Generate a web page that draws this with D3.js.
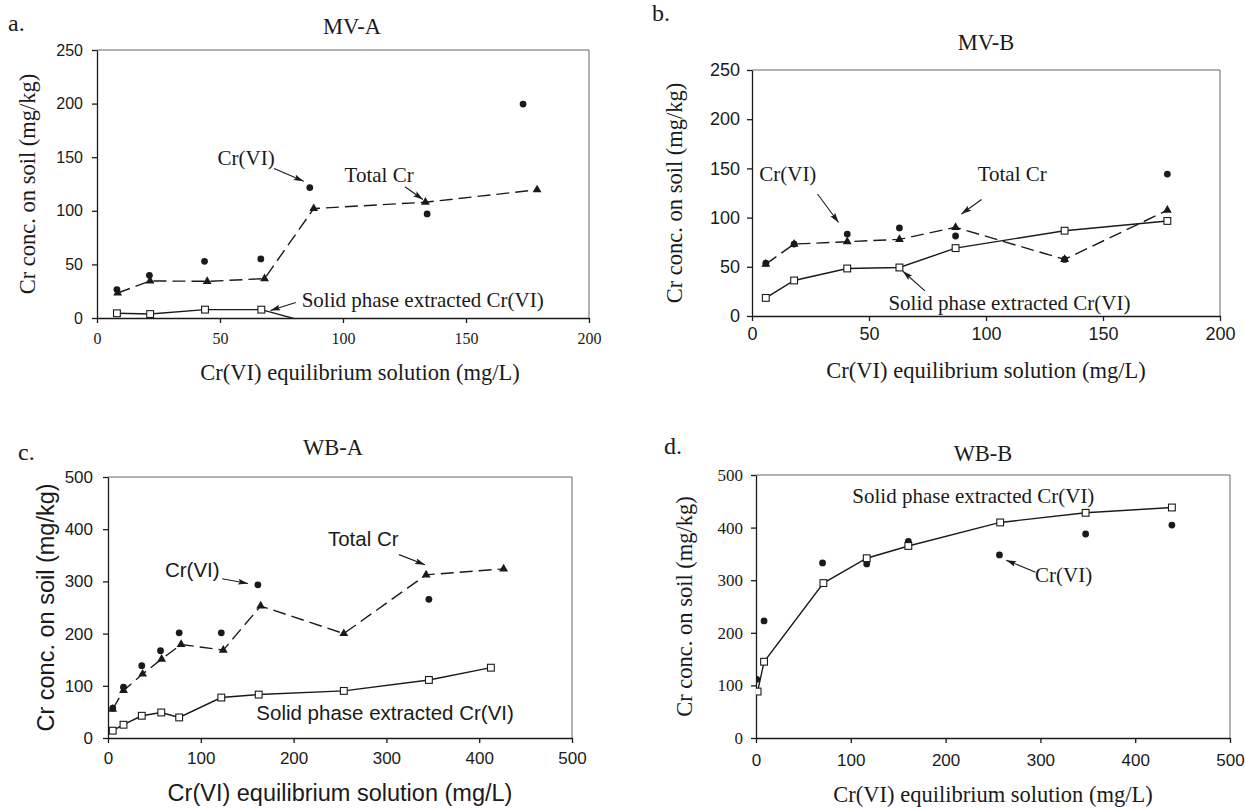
<!DOCTYPE html>
<html>
<head>
<meta charset="utf-8">
<style>
  body { margin: 0; background: #fff; }
  svg { display: block; }
</style>
<script src="https://cdn.jsdelivr.net/npm/d3@7"></script>
</head>
<body>
<script>
  // ---- data ----
  // a. MV-A
  const mvA_crvi_x = [8.1, 21.3, 43.7, 66.6, 86.5, 134.2, 173.2]
  const mvA_crvi = [26.5, 39.8, 52.9, 55.1, 121.7, 97.1, 199.6]
  const mvA_total_x = [8.4, 21.6, 44.8, 68.1, 88.1, 133.5, 178.9]
  const mvA_total = [23.3, 34.6, 34.2, 36.7, 102.1, 108.0, 119.6]
  const mvA_solid_x = [8.1, 21.6, 43.9, 66.8, 88.1]
  const mvA_solid = [4.4, 3.7, 7.8, 7.8, -5.5] // last one runs below the axis

  // b. MV-B
  const mvB_x = [5.9, 18.0, 40.7, 63.0, 87.0, 133.6, 177.5]
  const mvB_crvi = [53.7, 73.1, 83.3, 89.5, 81.3, 57.5, 144.2]
  const mvB_total = [52.7, 73.1, 75.5, 77.9, 90.1, 57.5, 107.5]
  const mvB_solid = [18.4, 36.1, 48.3, 49.3, 69.0, 86.7, 96.6]

  // c. WB-A
  const wbA_crvi_x = [5.1, 16.7, 36.4, 56.6, 76.7, 122.1, 161.5, 345.8]
  const wbA_crvi = [57.2, 97.2, 138.5, 167.1, 201.4, 201.4, 293.5, 265.6]
  const wbA_total_x = [5.1, 16.7, 37.3, 57.8, 78.8, 124.2, 164.5, 254.1, 342.8, 426.3]
  const wbA_total = [55.3, 90.9, 122.6, 151.2, 179.2, 168.4, 252.9, 200.1, 312.6, 324.0]
  const wbA_solid_x = [5.1, 16.7, 36.4, 57.4, 76.7, 122.1, 162.4, 254.1, 345.8, 412.6]
  const wbA_solid = [14.0, 25.4, 42.6, 48.9, 39.4, 77.5, 83.2, 90.2, 111.2, 134.7]

  // d. WB-B
  const wbB_solid_x = [1.7, 8.5, 71.1, 116.8, 160.7, 257.6, 347.7, 438.7]
  const wbB_solid = [88.3, 145.0, 294.5, 341.7, 365.1, 409.8, 428.1, 438.2]
  const wbB_crvi_x = [0.8, 8.5, 70.2, 116.8, 160.7, 256.8, 347.7, 438.7]
  const wbB_crvi = [111.6, 222.6, 332.9, 331.0, 373.9, 348.0, 387.8, 404.8]

  const ticks250 = [0, 50, 100, 150, 200, 250]
  const ticks200 = [0, 50, 100, 150, 200]
  const ticks500 = [0, 100, 200, 300, 400, 500]

  const yTitle = "Cr conc. on soil (mg/kg)"
  const xTitle = "Cr(VI) equilibrium solution (mg/L)"
  const solidLabel = "Solid phase extracted Cr(VI)"

  // annotation labels, in data units of each panel
  const notesA = [
    { text: "Cr(VI)", x: 60.6, y: 147, anchor: "middle", from: [72, 139.5], to: [84, 127.5] },
    { text: "Total Cr", x: 114.7, y: 131, anchor: "middle", from: [125.2, 122.4], to: [132.5, 110.5] },
    { text: solidLabel, x: 83.2, y: 15, anchor: "start", from: [80.8, 14.5], to: [70.5, 7] }
  ]
  const notesB = [
    { text: "Cr(VI)", x: 15.3, y: 142, anchor: "middle", from: [28, 124], to: [37, 95] },
    { text: "Total Cr", x: 111.2, y: 142, anchor: "middle", from: [98.1, 118.4], to: [89.5, 103.7] },
    { text: solidLabel, x: 110, y: 11, anchor: "middle", from: [73.9, 25.5], to: [64.5, 45.5] }
  ]
  const notesC = [
    { text: "Cr(VI)", x: 90.8, y: 318, anchor: "middle", from: [123, 305], to: [150.8, 296] },
    { text: "Total Cr", x: 275.1, y: 378, anchor: "middle", from: [313.6, 351.3], to: [341.5, 332] },
    { text: solidLabel, x: 298.6, y: 44.5, anchor: "middle" }
  ]
  const notesD = [
    { text: solidLabel, x: 229.3, y: 456, anchor: "middle" },
    { text: "Cr(VI)", x: 324.5, y: 306, anchor: "middle", from: [294.8, 315.3], to: [264, 338] }
  ]

  const serif = '"Liberation Serif", "Times New Roman", serif'
  const sans = '"Liberation Sans", Arial, sans-serif'
  const ink = "#1a1a1a"

  const panels = [
    {
      letter: "a.", title: "MV-A", box: { left: 97, right: 589, top: 50, bottom: 318 },
      xMax: 200, yMax: 250, xTicks: ticks200, yTicks: ticks250,
      letterPos: [8, 31], titlePos: [352, 34], yTitleX: 30, xTitlePos: [360, 380],
      yTickFont: [sans, 16], xTickFont: [serif, 16], labelFont: [serif, 22.5], titleFont: 22.5,
      noteFont: [serif, 21], yPad: 9, xPad: 10,
      series: [
        { xs: mvA_crvi_x, ys: mvA_crvi, mark: "dot" },
        { xs: mvA_total_x, ys: mvA_total, mark: "tri", line: "dash" },
        { xs: mvA_solid_x, ys: mvA_solid, mark: "square", line: "solid" }
      ],
      notes: notesA
    },
    {
      letter: "b.", title: "MV-B", box: { left: 752, right: 1220, top: 70, bottom: 316 },
      xMax: 200, yMax: 250, xTicks: ticks200, yTicks: ticks250,
      letterPos: [652, 21], titlePos: [986, 50], yTitleX: 677, xTitlePos: [986, 378],
      yTickFont: [sans, 18], xTickFont: [sans, 18], labelFont: [serif, 22.5], titleFont: 22.5,
      noteFont: [serif, 21], yPad: 7, xPad: 6,
      series: [
        { xs: mvB_x, ys: mvB_crvi, mark: "dot" },
        { xs: mvB_x, ys: mvB_total, mark: "tri", line: "dash" },
        { xs: mvB_x, ys: mvB_solid, mark: "square", line: "solid" }
      ],
      notes: notesB
    },
    {
      letter: "c.", title: "WB-A", box: { left: 108, right: 572, top: 477, bottom: 738 },
      xMax: 500, yMax: 500, xTicks: ticks500, yTicks: ticks500,
      letterPos: [18, 460], titlePos: [333, 455], yTitleX: 48, xTitlePos: [340, 801],
      yTickFont: [sans, 17], xTickFont: [sans, 17], labelFont: [sans, 23.5], titleFont: 22.5,
      noteFont: [sans, 20.5], yPad: 10, xPad: 9,
      series: [
        { xs: wbA_crvi_x, ys: wbA_crvi, mark: "dot" },
        { xs: wbA_total_x, ys: wbA_total, mark: "tri", line: "dash" },
        { xs: wbA_solid_x, ys: wbA_solid, mark: "square", line: "solid" }
      ],
      notes: notesC
    },
    {
      letter: "d.", title: "WB-B", box: { left: 756, right: 1230, top: 475, bottom: 738 },
      xMax: 500, yMax: 500, xTicks: ticks500, yTicks: ticks500,
      letterPos: [664, 454], titlePos: [983, 461], yTitleX: 687, xTitlePos: [993, 802],
      yTickFont: [serif, 17], xTickFont: [sans, 17], labelFont: [serif, 22.5], titleFont: 22.5,
      noteFont: [serif, 21], yPad: 8, xPad: 11,
      series: [
        { xs: wbB_crvi_x, ys: wbB_crvi, mark: "dot" },
        { xs: wbB_solid_x, ys: wbB_solid, mark: "square", line: "solid" }
      ],
      notes: notesD
    }
  ]

  const svg = d3.select("body").append("svg")
    .attr("width", 1245)
    .attr("height", 808)
    .style("background", "#fff")

  const defs = svg.append("defs")
  defs.append("marker")
    .attr("id", "arrow")
    .attr("viewBox", "0 0 10 6")
    .attr("refX", 10)
    .attr("refY", 3)
    .attr("markerWidth", 10)
    .attr("markerHeight", 6)
    .attr("markerUnits", "userSpaceOnUse")
    .attr("orient", "auto")
    .append("path")
    .attr("d", "M0,0 L10,3 L0,6 L2,3 Z")
    .attr("fill", ink)

  panels.forEach((p, i) => {
    const b = p.box
    const x = d3.scaleLinear().domain([0, p.xMax]).range([b.left, b.right])
    const y = d3.scaleLinear().domain([0, p.yMax]).range([b.bottom, b.top])
    const g = svg.append("g").attr("class", "panel")

    defs.append("clipPath").attr("id", "clip" + i)
      .append("rect")
      .attr("x", b.left).attr("y", b.top)
      .attr("width", b.right - b.left).attr("height", b.bottom - b.top)

    // panel letter and title
    g.append("text")
      .attr("x", p.letterPos[0]).attr("y", p.letterPos[1])
      .attr("font-family", serif).attr("font-size", 24).attr("fill", ink)
      .text(p.letter)
    g.append("text")
      .attr("x", p.titlePos[0]).attr("y", p.titlePos[1])
      .attr("text-anchor", "middle")
      .attr("font-family", serif).attr("font-size", p.titleFont).attr("fill", ink)
      .text(p.title)

    // frame: top and right edges are lighter in the scan
    g.append("path")
      .attr("d", `M${b.left},${b.top}H${b.right}V${b.bottom}`)
      .attr("fill", "none").attr("stroke", "#666").attr("stroke-width", 1)

    const yAxis = g.append("g")
      .attr("transform", `translate(${b.left},0)`)
      .call(d3.axisLeft(y).tickValues(p.yTicks).tickSize(5).tickSizeOuter(0).tickPadding(p.yPad))
    const xAxis = g.append("g")
      .attr("transform", `translate(0,${b.bottom})`)
      .call(d3.axisBottom(x).tickValues(p.xTicks).tickSize(5).tickSizeOuter(0).tickPadding(p.xPad))

    yAxis.selectAll("path, line").attr("stroke", ink).attr("stroke-width", 1.3)
    xAxis.selectAll("path, line").attr("stroke", ink).attr("stroke-width", 1.3)
    yAxis.selectAll("text")
      .attr("font-family", p.yTickFont[0]).attr("font-size", p.yTickFont[1]).attr("fill", ink)
    xAxis.selectAll("text")
      .attr("font-family", p.xTickFont[0]).attr("font-size", p.xTickFont[1]).attr("fill", ink)

    // axis titles
    g.append("text")
      .attr("transform", `translate(${p.yTitleX},${(b.top + b.bottom) / 2}) rotate(-90)`)
      .attr("text-anchor", "middle")
      .attr("dominant-baseline", "middle")
      .attr("font-family", p.labelFont[0]).attr("font-size", p.labelFont[1]).attr("fill", ink)
      .text(yTitle)
    g.append("text")
      .attr("x", p.xTitlePos[0]).attr("y", p.xTitlePos[1])
      .attr("text-anchor", "middle")
      .attr("font-family", p.labelFont[0]).attr("font-size", p.labelFont[1]).attr("fill", ink)
      .text(xTitle)

    const plot = g.append("g").attr("clip-path", `url(#clip${i})`)
    const line = d3.line().x(d => x(d[0])).y(d => y(d[1]))

    p.series.forEach(s => {
      const pts = s.xs.map((v, k) => [v, s.ys[k]])
      if (s.line) {
        plot.append("path")
          .datum(pts)
          .attr("d", line)
          .attr("fill", "none")
          .attr("stroke", ink)
          .attr("stroke-width", 1.4)
          .attr("stroke-dasharray", s.line === "dash" ? "13,6" : null)
      }
      const shown = pts.filter(d => d[1] >= 0)
      if (s.mark === "dot") {
        plot.selectAll(null).data(shown).enter().append("circle")
          .attr("cx", d => x(d[0])).attr("cy", d => y(d[1]))
          .attr("r", 3.4).attr("fill", ink)
      } else if (s.mark === "tri") {
        plot.selectAll(null).data(shown).enter().append("path")
          .attr("d", d3.symbol(d3.symbolTriangle, 34))
          .attr("transform", d => `translate(${x(d[0])},${y(d[1])})`)
          .attr("fill", ink)
      } else {
        plot.selectAll(null).data(shown).enter().append("rect")
          .attr("x", d => x(d[0]) - 3.4).attr("y", d => y(d[1]) - 3.4)
          .attr("width", 6.8).attr("height", 6.8)
          .attr("fill", "#fff").attr("stroke", ink).attr("stroke-width", 1.1)
      }
    })

    // annotations with arrows
    p.notes.forEach(n => {
      g.append("text")
        .attr("x", x(n.x)).attr("y", y(n.y))
        .attr("text-anchor", n.anchor)
        .attr("dominant-baseline", "middle")
        .attr("font-family", p.noteFont[0]).attr("font-size", p.noteFont[1]).attr("fill", ink)
        .text(n.text)
      if (n.from) {
        g.append("line")
          .attr("x1", x(n.from[0])).attr("y1", y(n.from[1]))
          .attr("x2", x(n.to[0])).attr("y2", y(n.to[1]))
          .attr("stroke", ink).attr("stroke-width", 1.1)
          .attr("marker-end", "url(#arrow)")
      }
    })
  })
</script>
</body>
</html>
